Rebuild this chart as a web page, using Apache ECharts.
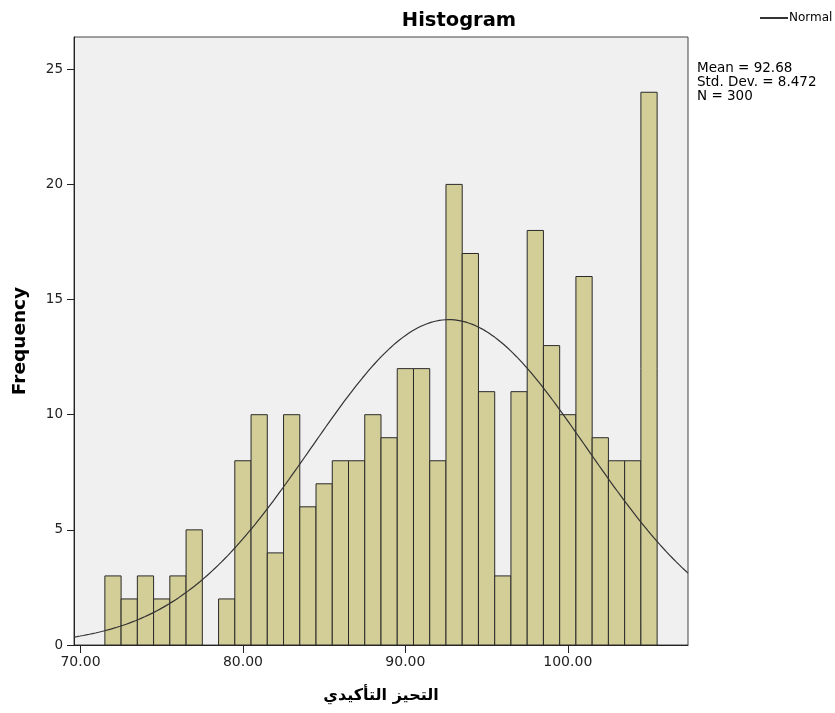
<!DOCTYPE html>
<html><head><meta charset="utf-8">
<script src="https://cdn.jsdelivr.net/npm/echarts@6/dist/echarts.min.js"></script>
<style>html,body{margin:0;padding:0;background:#fff}#c{width:835px;height:713px}</style>
</head><body><div id="c"></div>
<script>
const binCenters = [72,73,74,75,76,77,78,79,80,81,82,83,84,85,86,87,88,89,90,91,92,93,94,95,96,97,98,99,100,101,102,103,104,105];
const frequencies = [3,2,3,2,3,5,0,2,8,10,4,10,6,7,8,8,10,9,12,12,8,20,17,11,3,11,18,13,10,16,9,8,8,24];
const xTicks = [70,80,90,100];
const yTicks = [0,5,10,15,20,25];
const MEAN = 92.68, SD = 8.472, N = 300, BIN = 1;
const X_MIN = 69.6, X_MAX = 107.4, Y_MAX = 26.4;

const curve = [];
for (let i = 0; i <= 200; i++) {
  const x = X_MIN + (X_MAX - X_MIN) * i / 200;
  const z = (x - MEAN) / SD;
  curve.push([x, N * BIN / (SD * Math.sqrt(2 * Math.PI)) * Math.exp(-0.5 * z * z)]);
}
const barData = binCenters.map((c, i) => [c, frequencies[i]]);

const FONT = 'DejaVu Sans';
const chart = echarts.init(document.getElementById('c'));
chart.setOption({
  animation: false,
  textStyle: {fontFamily: FONT},
  title: {text: 'Histogram', left: 454, top: 6, textAlign: 'center',
    textStyle: {fontSize: 19.5, fontWeight: 'bold', color: '#000', fontFamily: FONT}},
  legend: {data: ['Normal'], left: 754, top: 7, itemWidth: 28, itemHeight: 2, itemGap: 2,
    textStyle: {fontSize: 12, color: '#000', padding: [0,0,0,-4], fontFamily: FONT}},
  grid: {left: 74, top: 37, right: 147, bottom: 68, show: true, backgroundColor: '#f0f0f0', borderColor: '#444', borderWidth: 1},
  xAxis: {type: 'value', min: X_MIN, max: X_MAX,
    name: 'التحيز التأكيدي', nameLocation: 'middle', nameGap: 43,
    nameTextStyle: {fontSize: 16, fontWeight: 'bold', color: '#000', fontFamily: FONT},
    axisLine: {show: true, lineStyle: {color: '#222'}},
    axisTick: {show: true, length: 8, customValues: xTicks, lineStyle: {color: '#222'}},
    axisLabel: {customValues: xTicks, formatter: v => v.toFixed(2), fontSize: 14, color: '#222', margin: 10, fontFamily: FONT},
    splitLine: {show: false}},
  yAxis: {type: 'value', min: 0, max: Y_MAX,
    name: 'Frequency', nameLocation: 'middle', nameGap: 44,
    nameTextStyle: {fontSize: 18.5, fontWeight: 'bold', color: '#000', fontFamily: FONT},
    axisLine: {show: true, lineStyle: {color: '#222'}},
    axisTick: {show: true, length: 7, customValues: yTicks, lineStyle: {color: '#222'}},
    axisLabel: {customValues: yTicks, fontSize: 13.5, color: '#222', margin: 11, fontFamily: FONT},
    splitLine: {show: false}},
  graphic: [{type: 'text', left: 697, top: 61,
    style: {text: 'Mean = 92.68\nStd. Dev. = 8.472\nN = 300', fontSize: 13.5, lineHeight: 14, fill: '#000', fontFamily: FONT}}],
  series: [
    {type: 'custom', name: 'Frequency', data: barData, z: 2,
      renderItem: function (params, api) {
        const c = api.value(0), f = api.value(1);
        if (!f) return;
        const p0 = api.coord([c - BIN / 2, f]);
        const p1 = api.coord([c + BIN / 2, 0]);
        return {type: 'rect', shape: {x: p0[0], y: p0[1], width: p1[0] - p0[0], height: p1[1] - p0[1]},
          style: {fill: '#d3ce97', stroke: '#2a2a2a', lineWidth: 1}};
      }},
    {type: 'line', name: 'Normal', data: curve, showSymbol: false, symbol: 'none', smooth: false, z: 3,
      lineStyle: {color: '#333', width: 1.2}, itemStyle: {color: '#333'}}
  ]
});
</script></body></html>
